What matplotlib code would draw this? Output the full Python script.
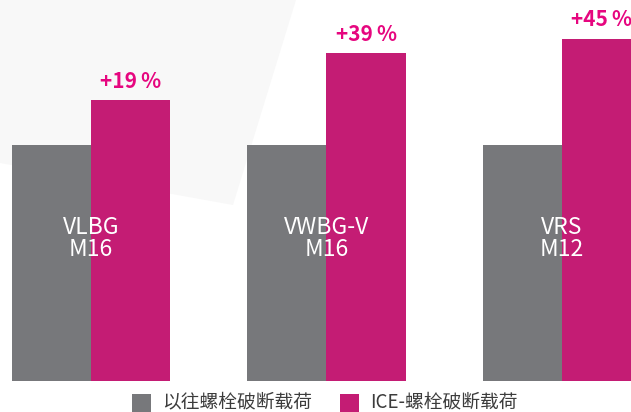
import matplotlib
matplotlib.use("Agg")
import matplotlib.pyplot as plt
from matplotlib.patches import Polygon, Rectangle

plt.rcParams['font.family'] = ['Noto Sans CJK SC', 'DejaVu Sans']

# data
categories = ["VLBG\nM16", "VWBG-V\nM16", "VRS\nM12"]
previous_load = [100, 100, 100]
ice_load = [119, 139, 145]
gain_labels = ["+19\u2009%", "+39\u2009%", "+45\u2009%"]
legend_labels = ["以往螺栓破断载荷", "ICE-螺栓破断载荷"]

GRAY = "#77787b"
MAGENTA = "#c41c74"
LABEL_PINK = "#e6067f"

W, H = 631, 412
fig = plt.figure(figsize=(W / 100, H / 100), dpi=100)
ax = fig.add_axes([0, 0, 1, 1])
ax.patch.set_alpha(0)

# pale slanted panel in the top-left corner
panel = [(0, 0), (296, 0), (233, 205), (0, 163)]
ax.add_patch(Polygon([(px / W, 1 - py / H) for px, py in panel],
                     closed=True, transform=fig.transFigure,
                     facecolor="#f8f8f8", edgecolor="none", zorder=0))

x = list(range(len(categories)))
bw = 0.3355
ax.bar([i - bw / 2 for i in x], previous_load, width=bw, color=GRAY, zorder=2)
ax.bar([i + bw / 2 for i in x], ice_load, width=bw, color=MAGENTA, zorder=2)

for i, (cat, val, lab) in enumerate(zip(categories, ice_load, gain_labels)):
    ax.text(i, 60.5, cat, ha="center", va="center", color="white",
            fontsize=16.5, linespacing=0.95, zorder=3)
    ax.text(i + bw / 2, val + 3.5, lab, ha="center", va="bottom",
            color=LABEL_PINK, fontsize=15, fontweight="bold", zorder=3)

ax.set_xlim(-0.3864, 2.293)
ax.set_ylim(-13.1, 161.4)
ax.axis("off")

# legend drawn in figure pixels
def fig_rect(px, py, w, h, color):
    fig.patches.append(Rectangle((px / W, 1 - (py + h) / H), w / W, h / H,
                                 transform=fig.transFigure, facecolor=color,
                                 edgecolor="none"))

fig_rect(132, 394, 19, 18, GRAY)
fig.text(162 / W, 1 - 402 / H, legend_labels[0], ha="left", va="center",
         fontsize=13.5, color="#3c3c3c")
fig_rect(340, 394, 19, 18, MAGENTA)
fig.text(370 / W, 1 - 402 / H, legend_labels[1], ha="left", va="center",
         fontsize=13.5, color="#3c3c3c")

fig.savefig("out.png", dpi=100)
